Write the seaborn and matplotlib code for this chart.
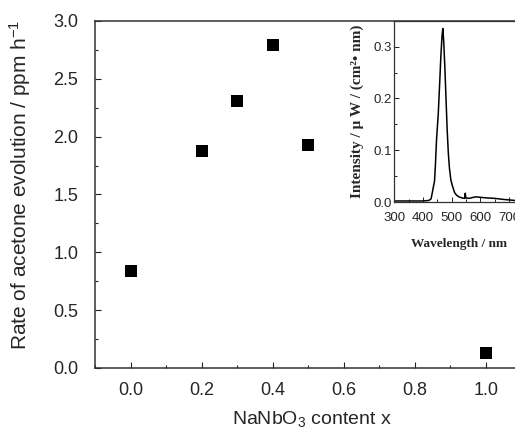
import matplotlib
matplotlib.use("Agg")
import matplotlib.pyplot as plt
import seaborn as sns
import pandas as pd
from matplotlib.ticker import MultipleLocator, FormatStrFormatter

# NaNbO3 content x vs. rate of acetone evolution
content_x = [0.0, 0.2, 0.3, 0.4, 0.5, 1.0]
rate = [0.84, 1.88, 2.31, 2.79, 1.93, 0.13]

# inset: light source spectrum
wavelength = [300, 350, 400, 420, 428, 433, 437, 440, 443, 447, 453, 458, 462, 466,
              469, 472, 476, 480, 484, 488, 492, 497, 503, 510, 517, 525, 535, 545,
              547, 549, 560, 575, 585, 600, 620, 650, 680, 700, 720, 750, 800]
intensity = [0.002, 0.002, 0.002, 0.003, 0.006, 0.020, 0.032, 0.040, 0.070, 0.120,
             0.170, 0.230, 0.280, 0.320, 0.335, 0.310, 0.260, 0.200, 0.140, 0.095,
             0.065, 0.042, 0.030, 0.018, 0.013, 0.010, 0.008, 0.007, 0.017, 0.008,
             0.007, 0.009, 0.010, 0.009, 0.008, 0.007, 0.005, 0.004, 0.003, 0.002, 0.002]

sns.set_style("ticks")
plt.rcParams["font.family"] = ["Liberation Sans", "DejaVu Sans"]
plt.rcParams["mathtext.default"] = "regular"

df = pd.DataFrame({"x": content_x, "rate": rate})
spec = pd.DataFrame({"wl": wavelength, "I": intensity})

fig = plt.figure(figsize=(5.15, 4.3), dpi=100)
ax = fig.add_axes([0.1845, 0.1442, 0.8283, 0.807])

sns.scatterplot(data=df, x="x", y="rate", marker="s", s=75, color="black",
                linewidth=0, ax=ax)
ax.set_xlim(-0.1, 1.1)
ax.set_ylim(0, 3.0)
ax.xaxis.set_major_locator(MultipleLocator(0.2))
ax.xaxis.set_minor_locator(MultipleLocator(0.1))
ax.yaxis.set_major_locator(MultipleLocator(0.5))
ax.yaxis.set_minor_locator(MultipleLocator(0.25))
ax.xaxis.set_major_formatter(FormatStrFormatter("%.1f"))
ax.yaxis.set_major_formatter(FormatStrFormatter("%.1f"))
ax.tick_params(which="both", direction="in", top=False, right=False, color="#222222")
ax.tick_params(which="major", length=4.5, width=0.8, labelsize=13)
ax.tick_params(which="minor", length=2.5, width=0.8)
ax.tick_params(axis="x", which="major", pad=10)
ax.tick_params(axis="y", which="major", pad=12)
for sp in ax.spines.values():
    sp.set_linewidth(1.1)
    sp.set_color("#333333")

ax.set_xlabel("NaNbO$_3$ content x", fontsize=14)
ax.set_ylabel("Rate of acetone evolution / ppm h$^{-1}$", fontsize=15)
ax.xaxis.set_label_coords(0.509, -0.117)
ax.yaxis.set_label_coords(-0.145, 0.527)

# inset
ins = fig.add_axes([0.7656, 0.5302, 0.279, 0.4216])
ins.set_facecolor("white")
sns.lineplot(data=spec, x="wl", y="I", color="black", linewidth=1.1,
             estimator=None, sort=False, ax=ins)
ins.set_xlim(300, 800)
ins.set_ylim(0, 0.35)
ins.xaxis.set_major_locator(MultipleLocator(100))
ins.xaxis.set_minor_locator(MultipleLocator(50))
ins.yaxis.set_major_locator(MultipleLocator(0.1))
ins.yaxis.set_minor_locator(MultipleLocator(0.05))
ins.yaxis.set_major_formatter(FormatStrFormatter("%.1f"))
ins.tick_params(which="both", direction="in", color="#222222")
ins.tick_params(which="major", length=3.5, width=0.7, labelsize=9.5, pad=2)
ins.tick_params(axis="x", which="major", pad=7)
ins.tick_params(which="minor", length=2, width=0.7)
for sp in ins.spines.values():
    sp.set_linewidth(0.9)
    sp.set_color("#333333")

serif = ["Liberation Serif", "DejaVu Serif"]
ins.set_xlabel("Wavelength / nm", fontsize=9.5, fontweight="bold", family=serif)
ins.set_ylabel("Intensity / \u03bc W / (cm\u00b2\u2022 nm)", fontsize=11,
               fontweight="bold", family=serif)
ins.xaxis.set_label_coords(0.45, -0.2)
ins.yaxis.set_label_coords(-0.21, 0.5)

fig.savefig("out.png", dpi=100)
